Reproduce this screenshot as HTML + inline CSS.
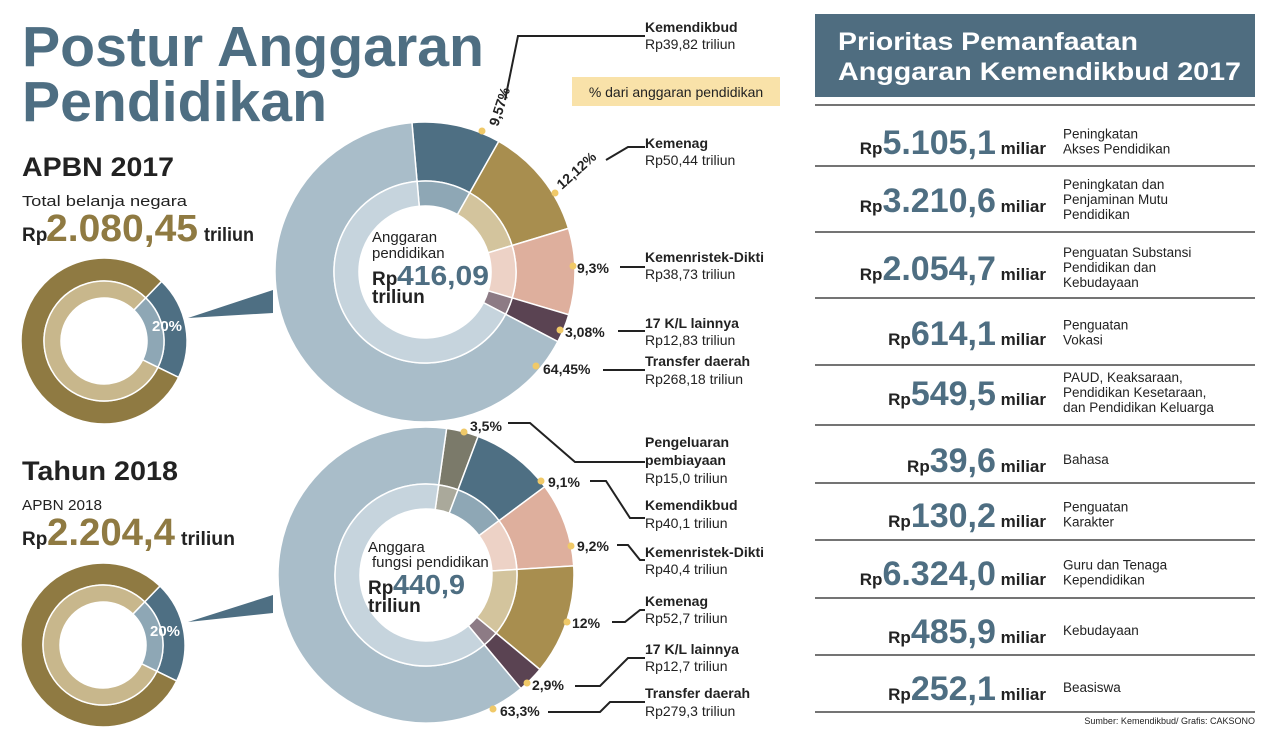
<!DOCTYPE html>
<html><head><meta charset="utf-8"><style>
html,body{margin:0;padding:0;background:#fff;}
svg{display:block;}
text{font-family:"Liberation Sans Narrow","Liberation Sans",sans-serif;}
.b{font-weight:bold;}
</style></head><body>
<svg id="s" width="1271" height="733" viewBox="0 0 1271 733" xmlns="http://www.w3.org/2000/svg">
<g id="donuts"></g>
<polygon points="188,318 273,290 273,313" fill="#4e6f83"/>
<polygon points="188,622 273,595 273,613" fill="#4e6f83"/>

<text x="22" y="66" font-size="57" class="b" fill="#4e6e82" textLength="462" lengthAdjust="spacingAndGlyphs">Postur Anggaran</text>
<text x="22" y="121" font-size="57" class="b" fill="#4e6e82" textLength="305" lengthAdjust="spacingAndGlyphs">Pendidikan</text>

<text x="22" y="176" font-size="27" class="b" fill="#222" textLength="152" lengthAdjust="spacingAndGlyphs">APBN 2017</text>
<text x="22" y="206" font-size="15" fill="#222" textLength="165" lengthAdjust="spacingAndGlyphs">Total belanja negara</text>
<text x="22" y="241" font-size="19" class="b" fill="#222">Rp</text>
<text x="46" y="241" font-size="38" class="b" fill="#8f7a42" textLength="152" lengthAdjust="spacingAndGlyphs">2.080,45</text>
<text x="204" y="241" font-size="19" class="b" fill="#222" textLength="50" lengthAdjust="spacingAndGlyphs">triliun</text>

<text x="22" y="480" font-size="27" class="b" fill="#222" textLength="156" lengthAdjust="spacingAndGlyphs">Tahun 2018</text>
<text x="22" y="510" font-size="15" fill="#222" textLength="80" lengthAdjust="spacingAndGlyphs">APBN 2018</text>
<text x="22" y="545" font-size="19" class="b" fill="#222">Rp</text>
<text x="47" y="545" font-size="38" class="b" fill="#8f7a42" textLength="128" lengthAdjust="spacingAndGlyphs">2.204,4</text>
<text x="181" y="545" font-size="19" class="b" fill="#222" textLength="54" lengthAdjust="spacingAndGlyphs">triliun</text>

<text x="152" y="331" font-size="15" class="b" fill="#fff">20%</text>
<text x="150" y="636" font-size="15" class="b" fill="#fff">20%</text>

<text x="372" y="242" font-size="15" fill="#222">Anggaran</text>
<text x="372" y="258" font-size="15" fill="#222">pendidikan</text>
<text x="372" y="285" font-size="19" class="b" fill="#222">Rp</text>
<text x="397" y="285" font-size="28" class="b" fill="#4e6e82" textLength="92" lengthAdjust="spacingAndGlyphs">416,09</text>
<text x="372" y="303" font-size="19" class="b" fill="#222">triliun</text>

<text x="368" y="552" font-size="15" fill="#222">Anggara</text>
<text x="372" y="567" font-size="15" fill="#222">fungsi pendidikan</text>
<text x="368" y="594" font-size="19" class="b" fill="#222">Rp</text>
<text x="393" y="594" font-size="28" class="b" fill="#4e6e82" textLength="72" lengthAdjust="spacingAndGlyphs">440,9</text>
<text x="368" y="612" font-size="19" class="b" fill="#222">triliun</text>

<rect x="572" y="77" width="208" height="29" fill="#f9e2a9"/>
<text x="676" y="97" font-size="14" fill="#222" text-anchor="middle">% dari anggaran pendidikan</text>

<g stroke="#222" stroke-width="2" fill="none">
<polyline points="505,100 518,36 645,36"/>
<polyline points="606,160 628,147 645,147"/>
<line x1="620" y1="267" x2="645" y2="267"/>
<line x1="618" y1="331" x2="645" y2="331"/>
<line x1="603" y1="370" x2="645" y2="370"/>
<polyline points="508,423 530,423 575,462 645,462"/>
<polyline points="590,481 606,481 630,518 645,518"/>
<polyline points="617,545 628,545 640,560 645,560"/>
<polyline points="612,622 625,622 640,610 645,610"/>
<polyline points="575,686 600,686 628,658 645,658"/>
<polyline points="548,712 600,712 610,702 645,702"/>
</g>
<g fill="#f0c968">
<circle cx="482" cy="131" r="3.5"/><circle cx="555" cy="193" r="3.5"/><circle cx="573" cy="266" r="3.5"/>
<circle cx="560" cy="330" r="3.5"/><circle cx="536" cy="366" r="3.5"/>
<circle cx="464" cy="432" r="3.5"/><circle cx="541" cy="481" r="3.5"/><circle cx="571" cy="546" r="3.5"/>
<circle cx="567" cy="622" r="3.5"/><circle cx="527" cy="683" r="3.5"/><circle cx="493" cy="709" r="3.5"/>
</g>
<g font-size="14" class="b" fill="#222">
<text transform="translate(498,127) rotate(-72)" class="b">9,57%</text>
<text transform="translate(562,190) rotate(-42)" class="b">12,12%</text>
<text x="577" y="273">9,3%</text>
<text x="565" y="337">3,08%</text>
<text x="543" y="374">64,45%</text>
<text x="470" y="431">3,5%</text>
<text x="548" y="487">9,1%</text>
<text x="577" y="551">9,2%</text>
<text x="572" y="628">12%</text>
<text x="532" y="690">2,9%</text>
<text x="500" y="716">63,3%</text>
</g>
<g font-size="14" fill="#222">
<text x="645" y="32" class="b">Kemendikbud</text><text x="645" y="49">Rp39,82 triliun</text>
<text x="645" y="148" class="b">Kemenag</text><text x="645" y="165">Rp50,44 triliun</text>
<text x="645" y="262" class="b">Kemenristek-Dikti</text><text x="645" y="279">Rp38,73 triliun</text>
<text x="645" y="328" class="b">17 K/L lainnya</text><text x="645" y="345">Rp12,83 triliun</text>
<text x="645" y="366" class="b">Transfer daerah</text><text x="645" y="384">Rp268,18 triliun</text>
<text x="645" y="447" class="b">Pengeluaran</text><text x="645" y="465" class="b">pembiayaan</text><text x="645" y="483">Rp15,0 triliun</text>
<text x="645" y="510" class="b">Kemendikbud</text><text x="645" y="528">Rp40,1 triliun</text>
<text x="645" y="557" class="b">Kemenristek-Dikti</text><text x="645" y="574">Rp40,4 triliun</text>
<text x="645" y="606" class="b">Kemenag</text><text x="645" y="623">Rp52,7 triliun</text>
<text x="645" y="654" class="b">17 K/L lainnya</text><text x="645" y="671">Rp12,7 triliun</text>
<text x="645" y="698" class="b">Transfer daerah</text><text x="645" y="716">Rp279,3 triliun</text>
</g>

<rect x="815" y="14" width="440" height="83" fill="#4f6d80"/>
<text x="838" y="50" font-size="25" class="b" fill="#fff" style='font-family:"Liberation Sans",sans-serif' textLength="300" lengthAdjust="spacingAndGlyphs">Prioritas Pemanfaatan</text>
<text x="838" y="80" font-size="25" class="b" fill="#fff" style='font-family:"Liberation Sans",sans-serif' textLength="403" lengthAdjust="spacingAndGlyphs">Anggaran Kemendikbud 2017</text>
<g id="rows"></g>
<text x="1255" y="724" font-size="9" fill="#222" text-anchor="end" style='font-family:"Liberation Sans",sans-serif'>Sumber: Kemendikbud/ Grafis: CAKSONO</text>
</svg>
<script>
var NS="http://www.w3.org/2000/svg";
function arc(cx,cy,r1,r2,a0,a1,fill,g){
 function p(r,a){a=(a-90)*Math.PI/180;return [cx+r*Math.cos(a),cy+r*Math.sin(a)];}
 var l=(a1-a0)>180?1:0,A=p(r2,a0),B=p(r2,a1),C=p(r1,a1),D=p(r1,a0);
 var d="M"+A+"A"+r2+","+r2+" 0 "+l+" 1 "+B+"L"+C+"A"+r1+","+r1+" 0 "+l+" 0 "+D+"Z";
 var e=document.createElementNS(NS,"path");e.setAttribute("d",d);e.setAttribute("fill",fill);
 e.setAttribute("stroke","#fff");e.setAttribute("stroke-width","1.5");g.appendChild(e);}
function donut(cx,cy,rw,rl,R,start,segs){
 var g=document.getElementById("donuts"),a=start;
 segs.forEach(function(s){var b=a+s[0]*3.6;arc(cx,cy,rl,R,a,b,s[1],g);arc(cx,cy,rw,rl,a,b,s[2],g);a=b;});
 var c=document.createElementNS(NS,"circle");c.setAttribute("cx",cx);c.setAttribute("cy",cy);c.setAttribute("r",rw);c.setAttribute("fill","#fff");g.appendChild(c);}
var T=["#a9bdc9","#c6d4dd"],KB=["#4e6f83","#8ea7b5"],KM=["#a88e4f","#d3c49d"],PK=["#deaf9d","#edd2c6"],PU=["#5a4352","#8d7b85"],GR=["#7b7a6a","#aaa99b"];
function S(p,c){return [p,c[0],c[1]];}
donut(425,272,66,91,150,-5,[S(9.57,KB),S(12.12,KM),S(9.3,PK),S(3.08,PU),S(65.93,T)]);
donut(426,575,66,91,148,8,[S(3.5,GR),S(9.1,KB),S(9.2,PK),S(12,KM),S(2.9,PU),S(63.3,T)]);
var GD=["#8f7a42","#c8b78c"];
donut(104,341,43,60,83,44,[S(20,KB),S(80,GD)]);
donut(103,645,43,60,82,44,[S(20,KB),S(80,GD)]);
var rows=[["5.105,1",142,["Peningkatan","Akses Pendidikan"]],["3.210,6",200,["Peningkatan dan","Penjaminan Mutu","Pendidikan"]],
["2.054,7",268,["Penguatan Substansi","Pendidikan dan","Kebudayaan"]],["614,1",333,["Penguatan","Vokasi"]],
["549,5",393,["PAUD, Keaksaraan,","Pendidikan Kesetaraan,","dan Pendidikan Keluarga"]],["39,6",460,["Bahasa"]],
["130,2",515,["Penguatan","Karakter"]],["6.324,0",573,["Guru dan Tenaga","Kependidikan"]],["485,9",631,["Kebudayaan"]],["252,1",688,["Beasiswa"]]];
var lines=[105,166,232,298,365,425,483,540,598,655,712];
var rg=document.getElementById("rows"),h="";
lines.forEach(function(y){h+='<line x1="815" y1="'+y+'" x2="1255" y2="'+y+'" stroke="#222" stroke-width="1.3"/>';});
rows.forEach(function(r){var y=r[1]+12;
 h+='<text x="1046" y="'+y+'" text-anchor="end" style="font-family:\'Liberation Sans\',sans-serif" font-weight="bold" fill="#222"><tspan font-size="17">Rp</tspan><tspan font-size="34" fill="#4e6e82">'+r[0]+'</tspan><tspan font-size="17"> miliar</tspan></text>';
 var n=r[2].length,y0=r[1]+4-(n-1)*7.5;
 r[2].forEach(function(t,i){h+='<text x="1063" y="'+(y0+i*15)+'" font-size="13.5" fill="#222" style="font-family:\'Liberation Sans\',sans-serif">'+t+'</text>';});
});
rg.innerHTML=h;
</script>
</body></html>
